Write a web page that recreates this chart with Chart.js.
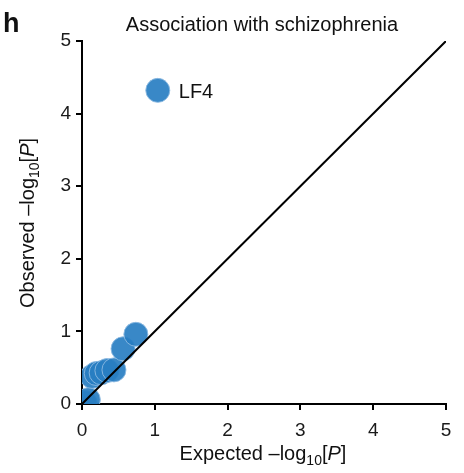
<!DOCTYPE html>
<html><head><meta charset="utf-8">
<script src="https://cdn.jsdelivr.net/npm/chart.js@4/dist/chart.umd.min.js"></script>
<style>html,body{margin:0;padding:0;background:#fff}#wrap{width:464px;height:473px}</style>
</head><body><div id="wrap"><canvas id="c" width="464" height="473"></canvas></div>
<script>
const expected = [0.041, 0.087, 0.138, 0.196, 0.263, 0.342, 0.439, 0.564, 0.740, 1.041];
const observed = [0.02, 0.06, 0.38, 0.42, 0.43, 0.46, 0.47, 0.76, 0.96, 4.32];
const pointLabels = ["", "", "", "", "", "", "", "", "", "LF4"];
const diagonal = [0, 5];
const tickValues = [0, 1, 2, 3, 4, 5];
const chartTitle = "Association with schizophrenia";
const panelLetter = "h";

const FONT = '"Liberation Sans", Arial, sans-serif';

const textPlugin = {
  id: 'texts',
  afterDraw(chart) {
    const ctx = chart.ctx, a = chart.chartArea;
    const xs = chart.scales.x, ys = chart.scales.y;
    ctx.save();
    ctx.fillStyle = '#111';
    ctx.textBaseline = 'alphabetic';
    ctx.font = 'bold 27px ' + FONT;
    ctx.textAlign = 'left';
    ctx.fillText(panelLetter, 3, 32);
    ctx.font = '20px ' + FONT;
    ctx.textAlign = 'center';
    ctx.fillText(chartTitle, 262, 31);
    ctx.textAlign = 'left';
    pointLabels.forEach((l, i) => {
      if (!l) return;
      ctx.fillText(l, xs.getPixelForValue(expected[i]) + 21, ys.getPixelForValue(observed[i]) + 8);
    });
    function drawTitle(prefix, cx, cy, rot) {
      ctx.save();
      ctx.translate(cx, cy);
      ctx.rotate(rot);
      ctx.textAlign = 'left';
      ctx.textBaseline = 'alphabetic';
      const big = '20px ' + FONT, small = '14px ' + FONT, ital = 'italic 20px ' + FONT;
      const parts = [[prefix + ' \u2013log', big, 0], ['10', small, 5], ['[', big, 0], ['P', ital, 0], [']', big, 0]];
      let w = 0;
      parts.forEach(p => { ctx.font = p[1]; w += ctx.measureText(p[0]).width; });
      let x = -w / 2;
      parts.forEach(p => { ctx.font = p[1]; ctx.fillText(p[0], x, p[2]); x += ctx.measureText(p[0]).width; });
      ctx.restore();
    }
    drawTitle('Expected', 263, 460, 0);
    drawTitle('Observed', 34, 223, -Math.PI / 2);
    ctx.restore();
  }
};

function axis(pad, fit) {
  return {
    type: 'linear', min: 0, max: 5,
    afterBuildTicks(s) { s.ticks = tickValues.map(v => ({ value: v })); },
    afterFit: fit,
    grid: { display: true, drawOnChartArea: false, drawTicks: true, tickLength: 6, color: '#000', lineWidth: 2 },
    border: { display: true, color: '#000', width: 2 },
    ticks: { color: '#1a1a1a', font: { family: FONT, size: 19 }, padding: pad }
  };
}

new Chart(document.getElementById('c'), {
  type: 'scatter',
  data: {
    datasets: [
      {
        type: 'line',
        data: diagonal.map(v => ({ x: v, y: v })),
        borderColor: '#000', borderWidth: 2, pointRadius: 0, fill: false, order: 0
      },
      {
        data: expected.map((x, i) => ({ x: x, y: observed[i] })),
        backgroundColor: 'rgba(40,126,194,0.92)',
        borderColor: 'rgba(140,185,225,0.9)',
        borderWidth: 1, pointRadius: 12, pointHoverRadius: 12, order: 1
      }
    ]
  },
  options: {
    responsive: false, animation: false,
    layout: { padding: { left: 0, top: 41, right: 18, bottom: 0 } },
    plugins: { legend: { display: false }, tooltip: { enabled: false }, title: { display: false } },
    scales: {
      x: axis(9, s => { s.height = 69; }),
      y: axis(5, s => { s.width = 82; })
    }
  },
  plugins: [textPlugin]
});
</script></body></html>
